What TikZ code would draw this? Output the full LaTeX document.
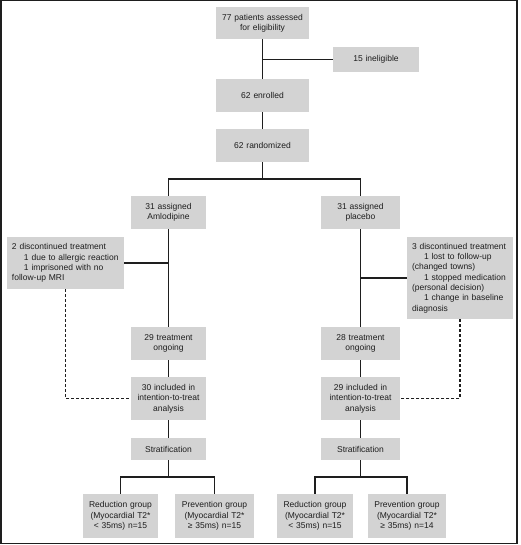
\documentclass[tikz,border=0pt]{standalone}
\usepackage{fontspec}
\setmainfont{Liberation Sans}
\definecolor{boxgray}{RGB}{211,211,211}
\definecolor{ink}{RGB}{30,30,30}
\tikzset{
  box/.style={fill=boxgray, draw=none, inner sep=0pt, align=center,
    font=\fontsize{8.5}{10.3}\selectfont, text=ink},
  lbox/.style={fill=boxgray, draw=none, inner xsep=5pt, inner ysep=0pt, align=left,
    font=\fontsize{8.5}{10.3}\selectfont, text=ink},
  conn/.style={draw=ink, line width=1.4pt},
  dconn/.style={draw=ink, line width=1.4pt, dash pattern=on 3pt off 2pt},
}
\newcommand{\ind}{\hspace*{12pt}}
\begin{document}
\begin{tikzpicture}[x=1pt,y=-1pt]
\useasboundingbox (0,0) rectangle (520,545);
\draw[ink, line width=1.5pt] (0.75,0.75) rectangle (517,543.5);

\node[box, minimum width=93pt, minimum height=32pt, text width=90pt] (a) at (262.5,23) {77 patients assessed\\for eligibility};
\node[box, minimum width=86pt, minimum height=25pt, text width=84pt] (inel) at (376,59.5) {15 ineligible};
\node[box, minimum width=93pt, minimum height=33pt, text width=90pt] (enr) at (262.5,95.5) {62 enrolled};
\node[box, minimum width=93pt, minimum height=33pt, text width=90pt] (rand) at (262.5,145.5) {62 randomized};

\node[box, minimum width=75pt, minimum height=33pt, text width=73pt] (aml) at (168.5,212.5) {31 assigned\\Amlodipine};
\node[box, minimum width=79pt, minimum height=33pt, text width=77pt] (plac) at (360.5,212.5) {31 assigned\\placebo};

\node[lbox, minimum height=52pt, text width=107pt] (discL) at (65.5,263) {2 discontinued treatment\\\ind 1 due to allergic reaction\\\ind 1 imprisoned with no\\follow-up MRI};
\node[lbox, minimum height=82pt, text width=96pt] (discR) at (460,278) {3 discontinued treatment\\\ind 1 lost to follow-up\\(changed towns)\\\ind 1 stopped medication\\(personal decision)\\\ind 1 change in baseline\\diagnosis};

\node[box, minimum width=75pt, minimum height=33pt, text width=73pt] (ongL) at (168.5,343.5) {29 treatment\\ongoing};
\node[box, minimum width=79pt, minimum height=33pt, text width=77pt] (ongR) at (360.5,343.5) {28 treatment\\ongoing};

\node[box, minimum width=75pt, minimum height=43pt, text width=73pt] (ittL) at (168.5,398.5) {30 included in\\intention-to-treat\\analysis};
\node[box, minimum width=79pt, minimum height=43pt, text width=77pt] (ittR) at (360.5,398.5) {29 included in\\intention-to-treat\\analysis};

\node[box, minimum width=75pt, minimum height=22pt, text width=73pt] (strL) at (168.5,449) {Stratification};
\node[box, minimum width=79pt, minimum height=22pt, text width=77pt] (strR) at (360.5,449) {Stratification};

\node[box, minimum width=75pt, minimum height=44pt, text width=74pt] (redL) at (120.5,516) {Reduction group\\(Myocardial T2*\\\textless{} 35ms) n=15};
\node[box, minimum width=79pt, minimum height=44pt, text width=78pt] (prevL) at (214.5,516) {Prevention group\\(Myocardial T2*\\≥ 35ms) n=15};
\node[box, minimum width=76pt, minimum height=44pt, text width=75pt] (redR) at (315,516) {Reduction group\\(Myocardial T2*\\\textless{} 35ms) n=15};
\node[box, minimum width=78pt, minimum height=44pt, text width=77pt] (prevR) at (407,516) {Prevention group\\(Myocardial T2*\\≥ 35ms) n=14};

\coordinate (split) at (262.5,179);
\coordinate (sL) at (168.5,477);
\coordinate (sR) at (360.5,477);

\draw[conn] (a) -- (enr);
\draw[conn] (inel.west) -- (inel.west -| a);
\draw[conn] (enr) -- (rand);
\draw[conn] (rand) -- (split);
\draw[conn] (aml.north) |- (split) -| (plac.north);

\draw[conn] (aml) -- (ongL);
\draw[conn] (discL.east) -- (discL.east -| aml);
\draw[conn] (ongL) -- (ittL);
\draw[conn] (ittL) -- (strL);
\draw[conn] (strL) -- (sL);
\draw[conn] (redL.north) |- (sL) -| (prevL.north);

\draw[conn] (plac) -- (ongR);
\draw[conn] (discR.west) -- (discR.west -| plac);
\draw[conn] (ongR) -- (ittR);
\draw[conn] (ittR) -- (strR);
\draw[conn] (strR) -- (sR);
\draw[conn] (redR.north) |- (sR) -| (prevR.north);

\draw[dconn] (discL.south) |- (ittL.west);
\draw[dconn] (discR.south) |- (ittR.east);
\end{tikzpicture}
\end{document}
